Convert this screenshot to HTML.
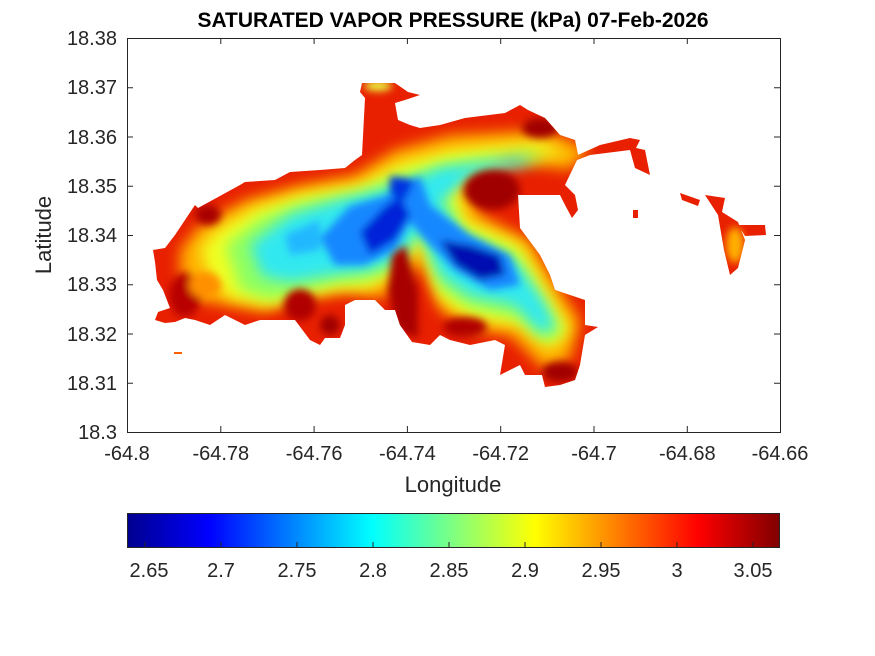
<!DOCTYPE html>
<html><head><meta charset="utf-8"><style>
body{margin:0;background:#fff;}
svg{display:block;font-family:"Liberation Sans",Arial,sans-serif;}
</style></head><body>
<svg width="875" height="656" viewBox="0 0 875 656" xmlns="http://www.w3.org/2000/svg">
<defs>
<clipPath id="land">
<polygon points="153,250 165,248 175,235 195,205 198,208 240,185 245,182 275,180 290,172 320,170 345,168 355,160 362,155 365,98 360,92 362,83 395,83 408,92 420,95 405,100 395,103 398,120 410,125 420,128 440,125 465,118 505,113 520,105 528,110 545,118 560,135 575,140 578,155 600,145 630,138 640,140 636,148 645,150 650,175 635,168 630,150 590,155 577,160 565,185 575,195 578,210 572,218 565,205 560,195 518,195 520,228 540,255 550,275 555,290 570,295 585,300 585,325 598,327 585,335 580,365 575,380 560,385 545,387 542,375 525,375 520,365 500,375 505,345 495,340 470,345 450,340 440,335 430,345 412,342 400,325 395,310 385,310 375,300 355,300 345,305 345,325 340,338 325,338 320,345 310,340 295,320 285,320 260,320 245,325 225,315 210,325 195,320 185,318 175,322 165,323 155,320 158,312 170,308 163,290 157,280 155,262"/>
<polygon points="705,195 725,198 722,212 738,222 745,240 738,268 730,275 724,250 718,215"/>
<polygon points="738,225 765,225 766,235 745,236"/>
<polygon points="680,193 700,200 698,206 682,200"/>
<polygon points="633,210 638,210 638,218 633,218"/>
</clipPath>
<filter id="b" x="-50%" y="-50%" width="200%" height="200%"><feGaussianBlur stdDeviation="7"/></filter>
<filter id="b2" x="-50%" y="-50%" width="200%" height="200%"><feGaussianBlur stdDeviation="4"/></filter>
<linearGradient id="jet" x1="0" x2="1" y1="0" y2="0">
<stop offset="0" stop-color="#00008f"/><stop offset="0.125" stop-color="#0000ff"/>
<stop offset="0.375" stop-color="#00ffff"/><stop offset="0.625" stop-color="#ffff00"/>
<stop offset="0.875" stop-color="#ff0000"/><stop offset="1" stop-color="#800000"/>
</linearGradient>
</defs>
<text x="453" y="27" text-anchor="middle" font-size="21" font-weight="bold">SATURATED VAPOR PRESSURE (kPa) 07-Feb-2026</text>
<g clip-path="url(#land)">
<rect x="120" y="60" width="680" height="360" fill="#e82000"/>
<g filter="url(#b)">
<polygon points="180,250 200,225 245,200 300,185 355,175 395,150 450,135 545,130 590,150 570,170 510,162 470,180 480,215 530,240 560,290 580,320 570,360 545,370 510,335 470,330 440,310 420,260 405,285 380,298 345,293 300,300 265,312 225,305 195,300 180,275" fill="#ffb000"/>
</g>
<g filter="url(#b)">
<polygon points="200,248 220,228 255,208 300,195 360,185 400,163 450,150 540,142 570,155 510,155 455,180 465,220 520,245 548,292 570,330 550,350 520,325 470,318 440,298 420,240 398,270 370,288 340,288 300,295 270,305 230,298 210,280" fill="#f0ff20"/>
</g>
<g filter="url(#b)">
<polygon points="225,245 260,218 300,203 360,192 400,175 450,162 530,152 548,160 500,162 445,188 460,228 515,252 540,298 562,332 545,342 518,318 470,308 440,288 420,233 395,268 368,280 338,282 300,292 270,300 240,290" fill="#90ff60"/>
</g>
<g filter="url(#b)">
<polygon points="250,245 290,215 340,200 395,188 440,168 520,158 535,163 470,176 440,202 462,238 518,265 543,300 556,328 540,332 515,305 470,296 440,275 420,228 400,258 370,270 330,275 290,282 262,276" fill="#30e8f0"/>
</g>
<g filter="url(#b2)">
<polygon points="320,238 350,206 385,196 420,176 430,205 470,235 510,255 520,285 490,290 455,270 425,240 410,222 395,250 365,265 335,265" fill="#1488ff"/>
<polygon points="360,232 385,206 400,196 410,215 395,240 370,255" fill="#0020d8"/>
<polygon points="440,240 470,245 500,255 505,275 480,280 455,265" fill="#0010b0"/>
<polygon points="390,176 415,180 405,200 390,195" fill="#0030e0"/>
<polygon points="285,235 320,220 320,250 290,255" fill="#20b8ff"/>
</g>
<g filter="url(#b2)">
<ellipse cx="492" cy="190" rx="28" ry="20" fill="#a00000"/>
<polygon points="392,255 405,245 418,290 418,338 397,330 388,290" fill="#a80000"/>
<ellipse cx="300" cy="305" rx="16" ry="16" fill="#b00000"/>
<ellipse cx="185" cy="295" rx="16" ry="22" fill="#b80000"/>
<ellipse cx="208" cy="215" rx="13" ry="10" fill="#a80000"/>
<ellipse cx="540" cy="128" rx="18" ry="10" fill="#a00000"/>
<ellipse cx="560" cy="372" rx="18" ry="10" fill="#a00000"/>
<ellipse cx="330" cy="325" rx="10" ry="10" fill="#a00000"/>
<ellipse cx="465" cy="327" rx="22" ry="10" fill="#b00000"/>
<ellipse cx="378" cy="86" rx="14" ry="5" fill="#e8ff40"/>
<ellipse cx="735" cy="245" rx="9" ry="18" fill="#ffb000"/>
<ellipse cx="205" cy="285" rx="16" ry="13" fill="#ff9000"/>
</g>
</g>
<rect x="174" y="352" width="8" height="2" fill="#ff6000"/>
<rect x="127.5" y="38.5" width="653" height="394" fill="none" stroke="#262626" stroke-width="1"/>
<g stroke="#262626" stroke-width="1">
<path d="M127.5,432v-6M220.8,432v-6M314.1,432v-6M407.4,432v-6M500.7,432v-6M594,432v-6M687.3,432v-6M780.5,432v-6"/>
<path d="M127.5,38v6M220.8,38v6M314.1,38v6M407.4,38v6M500.7,38v6M594,38v6M687.3,38v6"/>
<path d="M127,38.5h6M127,87.8h6M127,137h6M127,186.3h6M127,235.5h6M127,284.8h6M127,334h6M127,383.3h6"/>
<path d="M780,87.8h-6M780,137h-6M780,186.3h-6M780,235.5h-6M780,284.8h-6M780,334h-6M780,383.3h-6"/>
</g>
<g font-size="20" fill="#262626" text-anchor="middle">
<text x="127" y="460">-64.8</text><text x="220.8" y="460">-64.78</text><text x="314.1" y="460">-64.76</text><text x="407.4" y="460">-64.74</text><text x="500.7" y="460">-64.72</text><text x="594" y="460">-64.7</text><text x="687.3" y="460">-64.68</text><text x="780" y="460">-64.66</text>
</g>
<g font-size="20" fill="#262626" text-anchor="end">
<text x="117" y="45">18.38</text><text x="117" y="94">18.37</text><text x="117" y="144">18.36</text><text x="117" y="193">18.35</text><text x="117" y="242">18.34</text><text x="117" y="291">18.33</text><text x="117" y="341">18.32</text><text x="117" y="390">18.31</text><text x="117" y="439">18.3</text>
</g>
<text x="453" y="492" text-anchor="middle" font-size="22" fill="#262626">Longitude</text>
<text transform="translate(51,235) rotate(-90)" text-anchor="middle" font-size="22" fill="#262626">Latitude</text>
<rect x="127.5" y="513.5" width="652" height="34" fill="url(#jet)" stroke="#262626"/>
<g stroke="#262626"><path d="M145,547v-5M221,547v-5M297,547v-5M373,547v-5M449,547v-5M525,547v-5M601,547v-5M677,547v-5M753,547v-5"/></g>
<g font-size="20" fill="#262626" text-anchor="middle">
<text x="149" y="577">2.65</text><text x="221" y="577">2.7</text><text x="297" y="577">2.75</text><text x="373" y="577">2.8</text><text x="449" y="577">2.85</text><text x="525" y="577">2.9</text><text x="601" y="577">2.95</text><text x="677" y="577">3</text><text x="753" y="577">3.05</text>
</g>
</svg>
</body></html>
